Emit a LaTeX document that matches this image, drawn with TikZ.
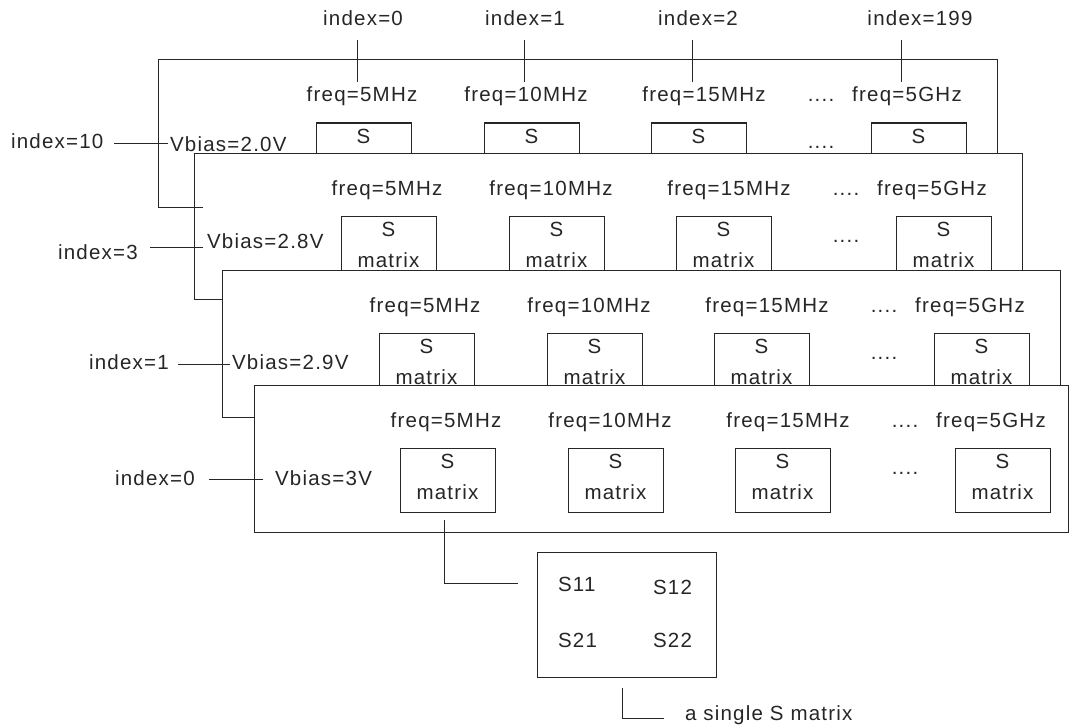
\documentclass[tikz,border=0pt]{standalone}
\usepackage{fontspec}
\setmainfont{Liberation Sans}[LetterSpace=6]
\newcommand\mylayer[6]{% #1 id, #2 dx, #3 top, #4 left, #5 right, #6 bottom
  \draw[frame] (#4,#3) rectangle (#5,#6);
  \foreach \k/\bx/\fx/\fl in {1/316/362/5MHz,2/484/526/10MHz,3/651/704/15MHz,4/871/907/5GHz}{
    \node[lab] (f#1\k) at (\fx+#2,#3+42) {freq=\fl};
    \node[sbox] (s#1\k) at (\bx+#2,#3+63) {};
    \node[lab] (sa#1\k) at (\bx+#2+47.5,#3+83) {S};
    \node[lab] (sb#1\k) at (\bx+#2+47.5,#3+114) {matrix};
  }
  \node[lab] (da#1) at (821+#2,#3+42) {....};
  \node[lab] (db#1) at (821+#2,#3+89) {....};
}
\begin{document}
\begin{tikzpicture}[x=1pt,y=-1pt,
  every node/.style={inner sep=0pt, outer sep=0pt, font=\fontsize{20.5}{24}\selectfont, text=black!85},
  lab/.style={anchor=base},
  labw/.style={anchor=base west},
  frame/.style={draw=black!85, fill=white, line width=1pt},
  sbox/.style={draw=black!85, fill=white, line width=1pt, anchor=north west, minimum width=95pt, minimum height=64pt},
  wire/.style={draw=black!85, line width=1pt}]
\useasboundingbox (0,0) rectangle (1072,725);

% top index labels (layer 1)
\node[lab] (t0) at (363,26) {index=0};
\node[lab] (t1) at (525,26) {index=1};
\node[lab] (t2) at (698,26) {index=2};
\node[lab] (t3) at (920,26) {index=199};

% layer 1
\mylayer{1}{0}{60}{158}{997}{207}
\node[labw] (v1) at (170,151) {Vbias=2.0V};
\node[labw] (x1) at (11,148) {index=10};
\coordinate (x1a) at (114,143); \coordinate (x1b) at (168,143);
\draw[wire] (x1a) -- (x1b);
\foreach \i/\x in {0/357,1/524,2/692,3/901}{
  \coordinate (ta\i) at (\x,40); \coordinate (tb\i) at (\x,82);
  \draw[wire] (ta\i) -- (tb\i);
}

% layer 2
\mylayer{2}{25}{153}{194}{1022}{299}
\coordinate (st1) at (194,207); \coordinate (st2) at (203,207);
\draw[wire] (st1) -- (st2);
\node[labw] (v2) at (207,248) {Vbias=2.8V};
\node[labw] (x2) at (58,259) {index=3};
\coordinate (x2a) at (150,247); \coordinate (x2b) at (203,247);
\draw[wire] (x2a) -- (x2b);

% layer 3
\mylayer{3}{63}{270}{222}{1060}{417}
\node[labw] (v3) at (232,369) {Vbias=2.9V};
\node[labw] (x3) at (89,369) {index=1};
\coordinate (x3a) at (178,364); \coordinate (x3b) at (230,364);
\draw[wire] (x3a) -- (x3b);

% layer 4
\mylayer{4}{84}{385}{254}{1068}{532}
\node[labw] (v4) at (275,485) {Vbias=3V};
\node[labw] (x4) at (115,485) {index=0};
\coordinate (x4a) at (209,479); \coordinate (x4b) at (263,479);
\draw[wire] (x4a) -- (x4b);

% single S matrix
\node[draw=black!85, line width=1pt, anchor=north west, minimum width=179pt, minimum height=125pt] (single) at (537,552) {};
\node[labw] (s11) at (558,591) {S11};
\node[labw] (s12) at (653,594) {S12};
\node[labw] (s21) at (558,647) {S21};
\node[labw] (s22) at (653,647) {S22};
\coordinate (c1) at (444,520); \coordinate (c2) at (518,583);
\draw[wire] (c1) |- (c2);

% callout
\node[labw] (cap) at (685,720) {a single S matrix};
\coordinate (k1) at (622,688); \coordinate (k2) at (664,718);
\draw[wire] (k1) |- (k2);
\end{tikzpicture}
\end{document}
